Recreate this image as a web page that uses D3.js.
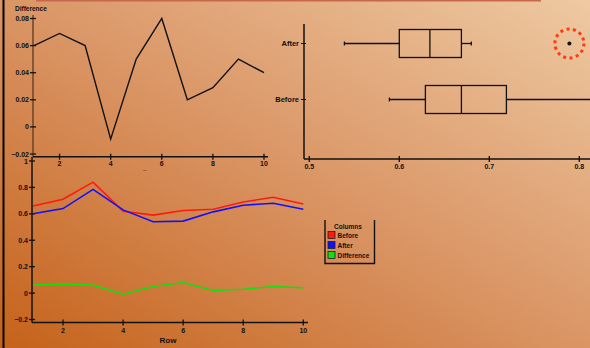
<!DOCTYPE html>
<html><head><meta charset="utf-8">
<script src="https://cdn.jsdelivr.net/npm/d3@7"></script>
<style>html,body{margin:0;padding:0;overflow:hidden;background:#d9915e}svg{display:block}
text{font-family:"Liberation Sans",Arial,sans-serif;font-weight:bold;fill:#111}</style>
</head><body>
<script>
// ---- data ----
const rows = [1,2,3,4,5,6,7,8,9,10];
const before = [0.66, 0.71, 0.84, 0.62, 0.59, 0.625, 0.635, 0.69, 0.725, 0.675];
const after  = [0.60, 0.64, 0.785, 0.63, 0.54, 0.545, 0.615, 0.665, 0.68, 0.635];
const difference = [0.06, 0.069, 0.06, -0.009, 0.05, 0.08, 0.02, 0.029, 0.05, 0.04];
const boxCategories = ["After", "Before"];
const boxLow    = [0.539, 0.589];
const boxQ1     = [0.600, 0.629];
const boxMedian = [0.634, 0.669];
const boxQ3     = [0.669, 0.719];
const boxHigh   = [0.680, 0.840];
const boxOutliers = [[0.789], []];
const topYTicks = [-0.02, 0, 0.02, 0.04, 0.06, 0.08];
const rowTicks = [2,4,6,8,10];
const bottomYTicks = [-0.2, 0, 0.2, 0.4, 0.6, 0.8, 1];
const boxXTicks = [0.5, 0.6, 0.7, 0.8];
const legendNames = ["Before", "After", "Difference"];
const legendColors = ["#ff1a0a", "#1010ff", "#10e010"];

const W = 590, H = 348;
const svg = d3.select("body").append("svg").attr("width", W).attr("height", H);
const defs = svg.append("defs");
const g = defs.append("linearGradient").attr("id","bg").attr("x1",0).attr("y1",1).attr("x2",1).attr("y2",0);
g.append("stop").attr("offset","0%").attr("stop-color","#c5621a");
g.append("stop").attr("offset","50%").attr("stop-color","#da9565");
g.append("stop").attr("offset","100%").attr("stop-color","#eec9a2");
svg.append("rect").attr("width",W).attr("height",H).attr("fill","url(#bg)");

// top border and left bar
svg.append("line").attr("x1",36).attr("x2",541).attr("y1",0.5).attr("y2",0.5).attr("stroke","#c8684a").attr("stroke-width",2);
svg.append("line").attr("x1",3.5).attr("x2",3.5).attr("y1",0).attr("y2",H).attr("stroke","#000").attr("stroke-width",2);

function crossTicksY(sel, scale, x, ticks, fmt, col){
  ticks.forEach(t=>{
    const y = scale(t);
    sel.append("line").attr("x1",x-3).attr("x2",x+3).attr("y1",y).attr("y2",y).attr("stroke",col||"#111").attr("stroke-width",1.3);
    sel.append("text").attr("x",x-4).attr("y",y+2.5).attr("text-anchor","end").attr("font-size",7).text(fmt(t));
  });
}
function crossTicksX(sel, scale, y, ticks, fmt, dy){
  ticks.forEach(t=>{
    const x = scale(t);
    sel.append("line").attr("x1",x).attr("x2",x).attr("y1",y-3).attr("y2",y+3).attr("stroke","#111").attr("stroke-width",1.3);
    sel.append("text").attr("x",x).attr("y",y+(dy||10)).attr("text-anchor","middle").attr("font-size",7).text(fmt(t));
  });
}
const fmtNum = d => d===0 ? "0" : d3.format("")(+d.toFixed(2));

// ---- top-left: Difference line ----
const t1 = svg.append("g");
const x1 = d3.scaleLinear().domain([1,10]).range([34,264]);
const y1 = d3.scaleLinear().domain([-0.02,0.08]).range([154,18.5]);
t1.append("line").attr("x1",33).attr("x2",33).attr("y1",15).attr("y2",157).attr("stroke","#6a4428").attr("stroke-width",1.5);
t1.append("line").attr("x1",33).attr("x2",268).attr("y1",156.7).attr("y2",156.7).attr("stroke","#111").attr("stroke-width",1.5);
crossTicksY(t1, y1, 33, topYTicks, fmtNum, "#111");
crossTicksX(t1, x1, 156.7, rowTicks, d=>d, 9);
t1.append("text").attr("x",15).attr("y",11).attr("font-size",6.5).text("Difference");
t1.append("text").attr("x",145).attr("y",170).attr("text-anchor","middle").attr("font-size",7).text("_");
t1.append("path").datum(difference)
  .attr("d", d3.line().x((d,i)=>x1(rows[i])).y(d=>y1(d)))
  .attr("fill","none").attr("stroke","#111").attr("stroke-width",1.4);

// ---- top-right: box plot ----
const t2 = svg.append("g");
const x2 = d3.scaleLinear().domain([0.5,0.8]).range([309.3,579.3]);
const y2 = d3.scalePoint().domain(boxCategories).range([43.5,99.5]);
t2.append("line").attr("x1",304).attr("x2",304).attr("y1",24).attr("y2",159).attr("stroke","#111").attr("stroke-width",1.5);
t2.append("line").attr("x1",304).attr("x2",W).attr("y1",159).attr("y2",159).attr("stroke","#111").attr("stroke-width",1.5);
crossTicksX(t2, x2, 159, boxXTicks, d=>d3.format(".1f")(d), 10);
boxCategories.forEach((c,i)=>{
  const cy = y2(c);
  t2.append("line").attr("x1",301).attr("x2",306).attr("y1",cy).attr("y2",cy).attr("stroke","#111").attr("stroke-width",1);
  t2.append("text").attr("x",299).attr("y",cy+2.5).attr("text-anchor","end").attr("font-size",7.5).text(c);
  const ln = (a,b,c2,d)=>t2.append("line").attr("x1",a).attr("x2",b).attr("y1",c2).attr("y2",d).attr("stroke","#111").attr("stroke-width",1.3);
  ln(x2(boxLow[i]), x2(boxQ1[i]), cy, cy);
  ln(x2(boxQ3[i]), x2(boxHigh[i]), cy, cy);
  ln(x2(boxLow[i]), x2(boxLow[i]), cy-2, cy+2);
  ln(x2(boxHigh[i]), x2(boxHigh[i]), cy-2, cy+2);
  t2.append("rect").attr("x",x2(boxQ1[i])).attr("y",cy-14).attr("width",x2(boxQ3[i])-x2(boxQ1[i])).attr("height",28)
    .attr("fill","none").attr("stroke","#111").attr("stroke-width",1.3);
  ln(x2(boxMedian[i]), x2(boxMedian[i]), cy-14, cy+14);
  boxOutliers[i].forEach(o=>{
    const ox = x2(o);
    t2.append("circle").attr("cx",ox).attr("cy",cy).attr("r",14.5).attr("fill","none")
      .attr("stroke","#ff3a10").attr("stroke-width",3).attr("stroke-dasharray","3 3.5");
    t2.append("circle").attr("cx",ox).attr("cy",cy).attr("r",2).attr("fill","#111");
  });
});

// ---- bottom-left: Before/After/Difference lines ----
const t3 = svg.append("g");
const x3 = d3.scaleLinear().domain([1,10]).range([33,303.3]);
const y3 = d3.scaleLinear().domain([-0.2,1]).range([319.5,161]);
t3.append("line").attr("x1",32).attr("x2",32).attr("y1",157).attr("y2",322.5).attr("stroke","#111").attr("stroke-width",1.5);
t3.append("line").attr("x1",32).attr("x2",308).attr("y1",322.5).attr("y2",322.5).attr("stroke","#111").attr("stroke-width",1.5);
crossTicksY(t3, y3, 32, bottomYTicks, d=>d===0?"0":(d===1?"1":d3.format(".1f")(d)), "#111");
crossTicksX(t3, x3, 322.5, rowTicks, d=>d, 10);
t3.append("text").attr("x",168).attr("y",343).attr("text-anchor","middle").attr("font-size",8).text("Row");
[before, after, difference].forEach((s,k)=>{
  t3.append("path").datum(s)
    .attr("d", d3.line().x((d,i)=>x3(rows[i])).y(d=>y3(d)))
    .attr("fill","none").attr("stroke",legendColors[k]).attr("stroke-width",1.6);
});

// ---- legend ----
const lg = svg.append("g");
lg.append("path").attr("d","M325,220V263.5H374.5V220").attr("fill","none").attr("stroke","#111").attr("stroke-width",1.4);
lg.append("text").attr("x",334).attr("y",229).attr("font-size",6.5).text("Columns");
legendNames.forEach((n,i)=>{
  const y = 231.5 + i*10;
  lg.append("rect").attr("x",328).attr("y",y).attr("width",7).attr("height",7).attr("fill",legendColors[i]).attr("stroke","#222").attr("stroke-width",0.8);
  lg.append("text").attr("x",337.5).attr("y",y+6.5).attr("font-size",6.5).text(n);
});
</script>
</body></html>
